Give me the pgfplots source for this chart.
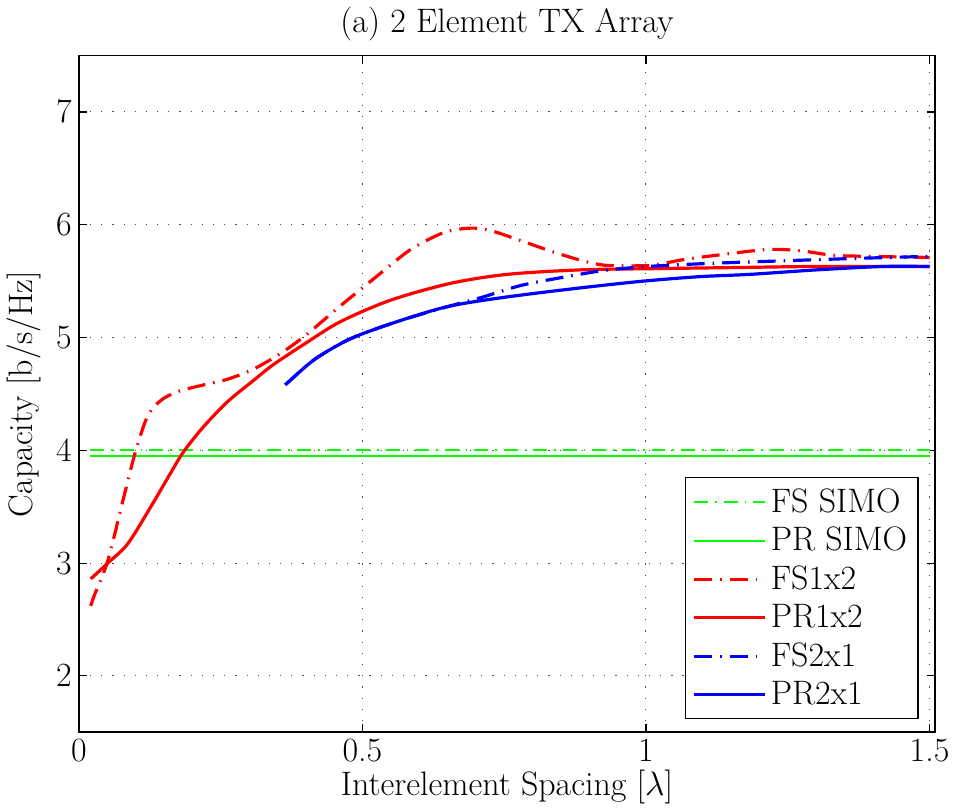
\RequirePackage{fix-cm}
\documentclass[border=0pt]{standalone}
\usepackage{pgfplots}
\pgfplotsset{compat=1.18}
\definecolor{mgreen}{rgb}{0,1,0}
\begin{document}
\begin{tikzpicture}
\begin{axis}[
  scale only axis, width=429pt, height=339pt,
  xmin=0, xmax=1.51, ymin=1.5, ymax=7.5,
  xtick={0,0.5,1,1.5}, ytick={2,3,4,5,6,7},
  xticklabels={0,0.5,1,1.5},
  tick align=inside, major tick length=4pt,
  grid=major, grid style={black!70, line width=0.5pt, dash pattern=on 0.6pt off 5pt},
  axis line style={line width=0.8pt},
  every tick/.style={black, line width=0.6pt},
  font=\fontsize{17}{20}\selectfont,
  tick label style={font=\fontsize{17}{20}\selectfont},
  title={(a) 2 Element TX Array},
  title style={yshift=-2pt},
  xlabel={Interelement Spacing [$\lambda$]},
  ylabel={Capacity [b/s/Hz]},
  xlabel style={yshift=3pt},
  ylabel style={yshift=1pt},
  legend cell align=left,
  legend style={at={(0.981,0.019)}, anchor=south east, draw=black, line width=0.8pt,
    font=\fontsize{17}{20}\selectfont, row sep=2pt, inner sep=3.5pt},
  legend image code/.code={\draw[#1] (0cm,0cm) -- (1.25cm,0cm);},
]
\addplot[mgreen, line width=1pt, dash pattern=on 7pt off 3.5pt on 0.8pt off 3.5pt] coordinates {(0.02,4.0) (1.5,4.0)};
\addlegendentry{FS SIMO}
\addplot[mgreen, line width=1pt] coordinates {(0.02,3.95) (1.5,3.95)};
\addlegendentry{PR SIMO}
\addplot[red, line width=1.6pt, smooth, dash pattern=on 9pt off 4pt on 0.8pt off 4pt] coordinates {
(0.021,2.62) (0.027,2.71) (0.051,3.02) (0.078,3.56) (0.100,3.99) (0.121,4.30) (0.144,4.44) (0.174,4.52) (0.220,4.58) (0.262,4.63) (0.308,4.72) (0.356,4.86) (0.40,5.02) (0.461,5.28) (0.532,5.57) (0.585,5.78) (0.643,5.93) (0.690,5.97) (0.725,5.95) (0.773,5.87) (0.836,5.76) (0.889,5.68) (0.931,5.64) (1.007,5.64) (1.065,5.69) (1.125,5.73) (1.213,5.78) (1.271,5.77) (1.329,5.73) (1.389,5.72) (1.5,5.71)};
\addlegendentry{FS1x2}
\addplot[red, line width=1.6pt, smooth] coordinates {
(0.021,2.86) (0.051,3.00) (0.086,3.17) (0.127,3.50) (0.162,3.80) (0.185,3.99) (0.220,4.21) (0.262,4.43) (0.308,4.62) (0.343,4.76) (0.40,4.95) (0.461,5.14) (0.549,5.33) (0.655,5.48) (0.755,5.56) (0.884,5.60) (1.0,5.61) (1.15,5.62) (1.3,5.63) (1.5,5.63)};
\addlegendentry{PR1x2}
\addplot[blue, line width=1.6pt, smooth, dash pattern=on 9pt off 4pt on 0.8pt off 4pt] coordinates {
(0.364,4.58) (0.414,4.80) (0.467,4.96) (0.509,5.05) (0.579,5.17) (0.655,5.28) (0.713,5.36) (0.778,5.46) (0.849,5.53) (0.919,5.59) (0.977,5.62) (1.037,5.64) (1.125,5.66) (1.241,5.68) (1.359,5.70) (1.5,5.72)};
\addlegendentry{FS2x1}
\addplot[blue, line width=1.6pt, smooth] coordinates {
(0.364,4.58) (0.414,4.80) (0.467,4.96) (0.509,5.05) (0.579,5.17) (0.655,5.28) (0.755,5.36) (0.884,5.44) (0.995,5.50) (1.095,5.54) (1.183,5.56) (1.301,5.60) (1.417,5.63) (1.5,5.63)};
\addlegendentry{PR2x1}
\end{axis}
\end{tikzpicture}
\end{document}
